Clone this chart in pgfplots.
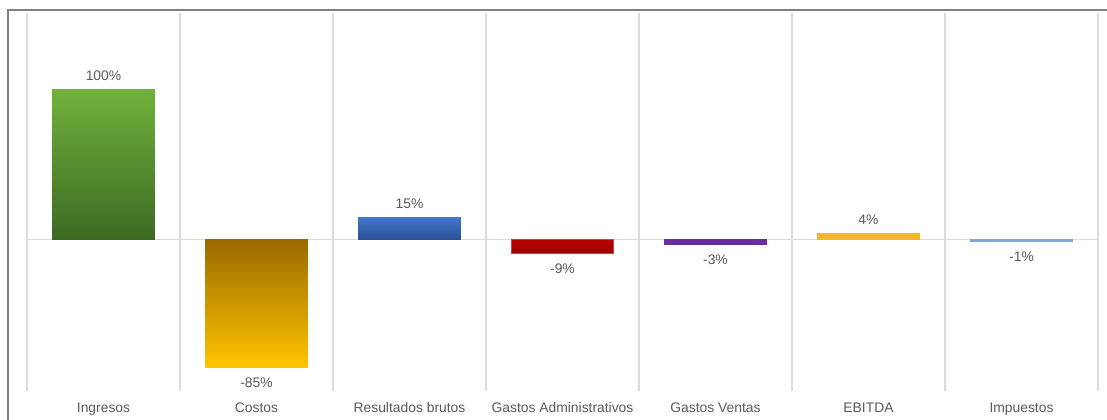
\documentclass[border=0pt]{standalone}
\usepackage{pgfplots}
\pgfplotsset{compat=1.18}
\usepackage{fontspec}
\setmainfont{Liberation Sans}
\definecolor{txt}{HTML}{595959}
\definecolor{gridc}{HTML}{DCDCDC}
\definecolor{gTop}{HTML}{70B23C}\definecolor{gBot}{HTML}{3B6A22}
\definecolor{oTop}{HTML}{9A6A00}\definecolor{oBot}{HTML}{FFC400}
\definecolor{bTop}{HTML}{4478CC}\definecolor{bBot}{HTML}{2A5196}
\definecolor{rTop}{HTML}{B80000}\definecolor{rBot}{HTML}{A00000}
\definecolor{rEdge}{HTML}{D04040}
\definecolor{purp}{HTML}{6A2D9C}
\definecolor{gold}{HTML}{F2B82A}
\definecolor{lblue}{HTML}{7FA6D6}
\begin{document}
\begin{tikzpicture}[x=0.75pt,y=0.75pt]
\useasboundingbox (0,0) rectangle (1107,419);
\begin{scope}
\clip (0,0) rectangle (1107,419);
\draw[line width=1.5pt, color=black!50] (8,-20) -- (8,409) -- (1130,409);
\end{scope}
\begin{axis}[
  at={(20.25pt,21pt)}, anchor=south west,
  width=803.25pt, height=283.5pt, scale only axis,
  xmin=-0.5, xmax=6.5, ymin=-101, ymax=151,
  axis line style={draw=none},
  ybar, bar width=0.67,
  xtick={0,...,6},
  xticklabels={Ingresos, Costos, Resultados brutos, Gastos Administrativos, Gastos Ventas, EBITDA, Impuestos},
  major tick length=0, minor tick length=0,
  minor xtick={-0.5,0.5,...,6.5}, xminorgrids,
  minor grid style={color=gridc, line width=1.1pt},
  ytick={0}, yticklabels={}, ymajorgrids,
  major grid style={color=gridc, line width=0.9pt},
  tick label style={font=\fontsize{10.4}{12}\selectfont, text=txt},
  xticklabel style={yshift=-5.25pt},
  nodes near coords, point meta=explicit symbolic,
  every node near coord/.append style={font=\fontsize{10.4}{12}\selectfont, text=txt},
  clip=false,
  pos/.style={every node near coord/.append style={anchor=south, yshift=3pt}},
  neg/.style={every node near coord/.append style={anchor=north, yshift=-4.5pt}},
]
\addplot[pos, bar shift=0pt, draw=none, top color=gTop, bottom color=gBot] coordinates {(0,100) [100\%]};
\addplot[neg, bar shift=0pt, draw=none, top color=oTop, bottom color=oBot] coordinates {(1,-85) [-85\%]};
\addplot[pos, bar shift=0pt, draw=none, top color=bTop, bottom color=bBot] coordinates {(2,15) [15\%]};
\addplot[neg, bar shift=0pt, draw=rEdge, line width=0.5pt, top color=rTop, bottom color=rBot] coordinates {(3,-9) [-9\%]};
\addplot[neg, bar shift=0pt, draw=purp, line width=0.4pt, fill=purp] coordinates {(4,-3) [-3\%]};
\addplot[pos, bar shift=0pt, draw=gold, line width=0.4pt, fill=gold] coordinates {(5,4) [4\%]};
\addplot[neg, bar shift=0pt, draw=lblue, line width=0.9pt, fill=lblue] coordinates {(6,-1) [-1\%]};
\end{axis}
\end{tikzpicture}
\end{document}
